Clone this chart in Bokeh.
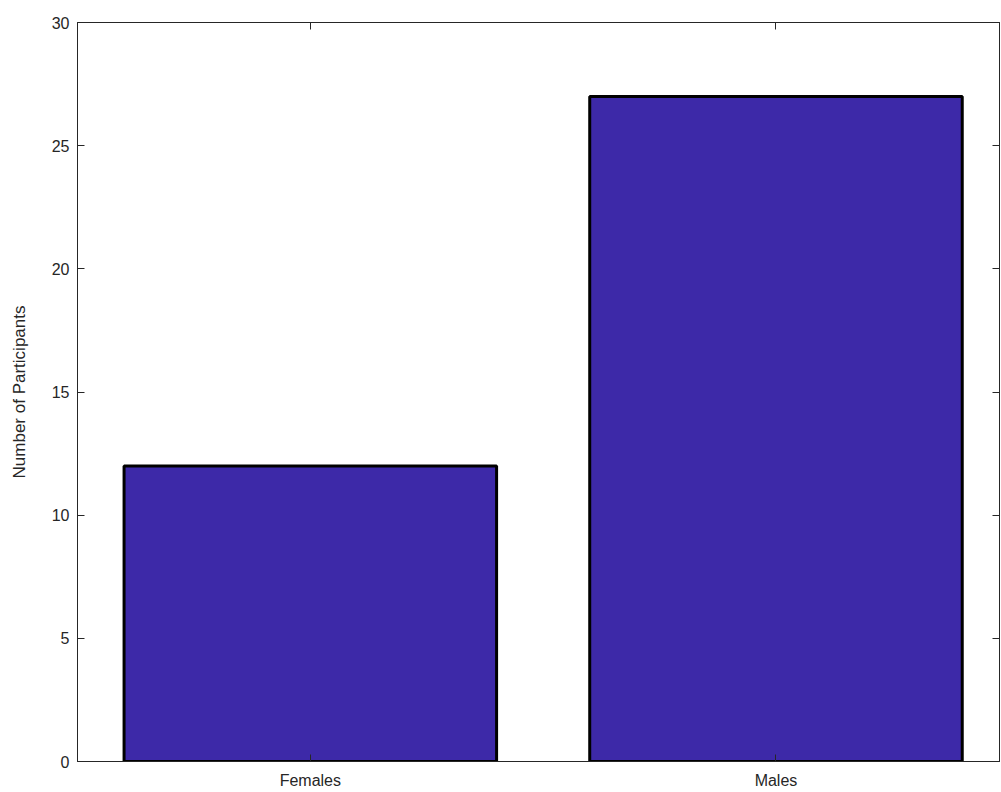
from bokeh.plotting import figure
from bokeh.models import LinearAxis, FixedTicker, Range1d
from bokeh.embed import file_html
from bokeh.resources import INLINE

categories = ["Females", "Males"]
positions = [1, 2]
counts = [12, 27]
yticks = [0, 5, 10, 15, 20, 25, 30]

p = figure(width=1001, height=792, output_backend="svg", toolbar_location=None,
           x_range=Range1d(0.5, 2.48), y_range=Range1d(0, 30),
           min_border_left=77, min_border_top=22, min_border_right=2, min_border_bottom=31)
p.xaxis.visible = False
p.yaxis.visible = False
p.grid.visible = False
p.outline_line_color = "#262626"
p.outline_line_width = 1

p.vbar(x=positions, top=counts, width=0.8, bottom=0, fill_color="#3D29A8",
       line_color="black", line_width=3)

def mk(loc, ticks, labels=True, overrides=None):
    ax = LinearAxis(ticker=FixedTicker(ticks=ticks))
    ax.major_tick_in = 7
    ax.major_tick_out = 0
    ax.minor_tick_line_color = None
    ax.axis_line_color = "#262626"
    ax.major_tick_line_color = "#262626"
    ax.major_label_text_font = "Liberation Sans"
    ax.major_label_text_font_size = "16px"
    ax.major_label_text_color = "#262626"
    ax.axis_label_text_font = "Liberation Sans"
    ax.axis_label_text_font_size = "17px"
    ax.axis_label_text_font_style = "normal"
    ax.axis_label_text_color = "#262626"
    if overrides:
        ax.major_label_overrides = overrides
    if not labels:
        ax.major_label_text_color = None
    p.add_layout(ax, loc)
    return ax

ax_l = mk("left", yticks)
ax_l.axis_label = "Number of Participants"
ax_l.axis_label_standoff = 20
ax_l.major_label_standoff = 8
ax_b = mk("below", positions, overrides={1: categories[0], 2: categories[1]})
ax_b.major_label_standoff = 10
mk("above", positions, labels=False)
mk("right", yticks, labels=False)

open("out.html", "w").write(file_html(p, INLINE))
